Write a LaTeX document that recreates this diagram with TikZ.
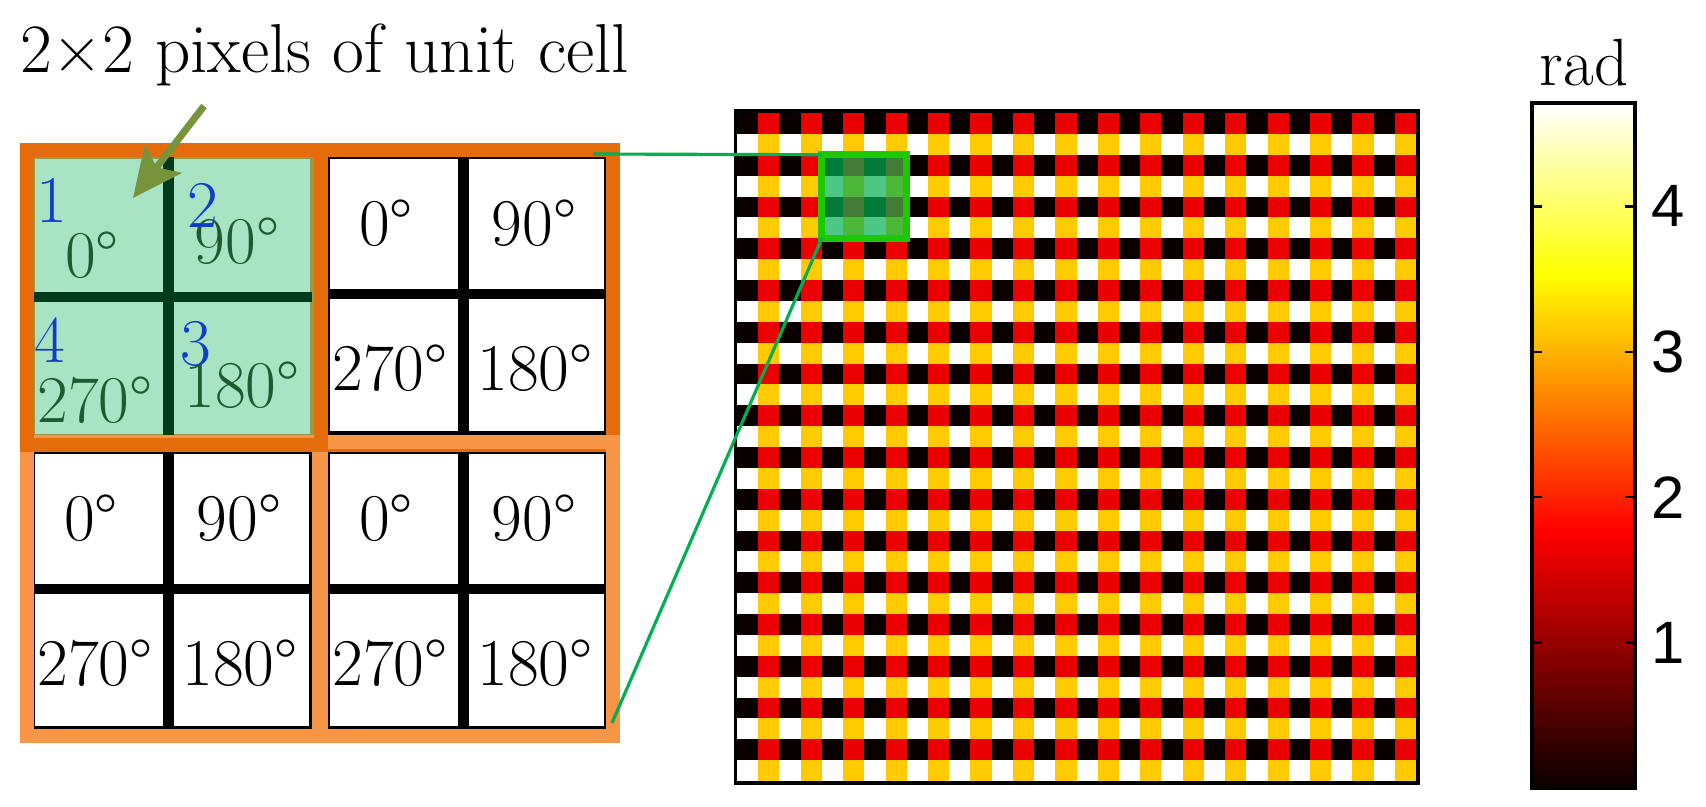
\documentclass[tikz,border=0pt]{standalone}
\usepackage{fontspec}
\newfontfamily\barfont{Liberation Sans}
\usepackage{tikz}
\usetikzlibrary{arrows.meta}

\definecolor{cellorange}{RGB}{228,108,10}
\definecolor{lightorange}{RGB}{247,150,70}
\definecolor{cellgreen}{RGB}{168,228,196}
\definecolor{edgeolive}{RGB}{150,155,70}
\definecolor{linegreen}{RGB}{0,59,28}
\definecolor{textgreen}{RGB}{30,90,50}
\definecolor{numblue}{RGB}{20,60,204}
\definecolor{arrowolive}{RGB}{119,147,60}
\definecolor{zoomgreen}{RGB}{0,176,80}
\definecolor{boxgreen}{RGB}{30,200,0}
\definecolor{hotblack}{RGB}{11,0,0}
\definecolor{hotred}{RGB}{234,0,0}
\definecolor{hotyellow}{RGB}{255,202,0}

\tikzset{
  deg/.style={font=\fontsize{19}{19}\selectfont, inner sep=0pt, anchor=base},
  num/.style={deg, text=numblue},
  crossline/.style={line width=3.1pt},
  quadframe/.style={line width=4pt},
  zoomline/.style={zoomgreen, line width=0.9pt},
}

\begin{document}
\begin{tikzpicture}[x=0.01cm, y=-0.01cm]
    \useasboundingbox (0,0) rectangle (1706,806);

    % LEFT GRID
    % Highlighted unit cell
    \begin{scope}[shift={(33,157)}]
    \fill[cellgreen] (0,0) rectangle (279,279);
    \draw[edgeolive, line width=1pt] (0,0) rectangle (279,279);
    \draw[linegreen, crossline] (135.5,0) -- (135.5,279);
    \draw[linegreen, crossline] (0,140) -- (279,140);
    \node[deg, text=textgreen] (tl0) at (59,120) {0°};
    \node[deg, text=textgreen] (tl90) at (204,106) {90°};
    \node[deg, text=textgreen] (tl270) at (62,265) {270°};
    \node[deg, text=textgreen] (tl180) at (209,250) {180°};
    \node[num] (tlnum1) at (19,65) {1};
    \node[num] (tlnum2) at (170,70) {2};
    \node[num] (tlnum3) at (163,208) {3};
    \node[num] (tlnum4) at (17,205) {4};
    \end{scope}

    % Other unit cells
    \foreach \q/\qx/\qy in {tr/328/157, bl/33/452, br/328/452} {
    \begin{scope}[shift={(\qx,\qy)}]
    \draw[fill=white, line width=1pt] (0,0) rectangle (278,276);
    \draw[crossline] (135.5,0) -- (135.5,276);
    \draw[crossline] (0,137) -- (278,137);
    \node[deg] (\q0) at (58,88) {0°};
    \node[deg] (\q90) at (206,88) {90°};
    \node[deg] (\q270) at (62,233) {270°};
    \node[deg] (\q180) at (207,233) {180°};
    \end{scope}
    }

    % Frames
    \draw[cellorange, quadframe] (27,150) rectangle (613,445);
    \draw[lightorange, quadframe] (27,442) rectangle (321,736);
    \draw[lightorange, quadframe] (319,442) rectangle (613,736);
    \draw[cellorange, quadframe] (27,150) rectangle (321,445);

    % Title and arrow
    \node[font=\fontsize{19.7}{19.7}\selectfont, inner sep=0pt, anchor=base west] (title) at (20,72) {2×2 pixels of unit cell};
    \coordinate (arrowtail) at (204,106);
    \coordinate (arrowtip) at (133,198);
    \draw[arrowolive, line width=2pt, -{Stealth[length=14pt, width=13pt, inset=3pt]}] (arrowtail) -- (arrowtip);

    % PHASE MAP
    \fill[white] (737,113) rectangle (1416,781);
    \foreach \j in {0,2,...,30}
        \fill[hotblack] (737,{113+\j*20.875}) rectangle (1416,{113+(\j+1)*20.875});
    \foreach \i in {1,3,...,31}
        \fill[hotyellow] ({737+\i*21.22},113) rectangle ({737+(\i+1)*21.22},781);
    \foreach \i in {1,3,...,31}
        \foreach \j in {0,2,...,30}
            \fill[hotred] ({737+\i*21.22},{113+\j*20.875}) rectangle ({737+(\i+1)*21.22},{113+(\j+1)*20.875});
    \draw[line width=1pt] (735.25,111.25) rectangle (1417.75,782.75);

    % Zoom box
    \node[draw=boxgreen, line width=2pt, fill=zoomgreen, fill opacity=0.7, draw opacity=1,
          minimum width=0.849cm, minimum height=0.835cm, inner sep=0pt, outer sep=0pt]
          (unitbox) at ({737+6*21.22},{113+4*20.875}) {};
    \coordinate (gridne) at (593,154);
    \coordinate (gridse) at (612,723);
    \draw[zoomline] (gridne) -- (unitbox.north west);
    \draw[zoomline] (gridse) -- (unitbox.south west);

    % COLORBAR
    \shade[bottom color=hotblack, top color=red] (1532,788) rectangle (1635,531);
    \shade[bottom color=red, top color=yellow] (1532,531.5) rectangle (1635,274);
    \shade[bottom color=yellow, top color=white] (1532,274.5) rectangle (1635,103);
    \draw[line width=1pt] (1532,103) rectangle (1635,788);
    \foreach \v in {1,2,3,4} {
        \draw[line width=0.7pt] (1532,{788-145.4*\v}) -- ++(10,0);
        \draw[line width=0.7pt] (1635,{788-145.4*\v}) -- ++(-10,0);
        \node[font=\barfont\fontsize{17}{17}\selectfont, inner sep=0pt] (tick\v) at (1668,{788-145.4*\v}) {\v};
    }
    \node[font=\fontsize{19}{19}\selectfont, inner sep=0pt, anchor=base] (barunit) at (1584,85) {rad};

\end{tikzpicture}
\end{document}
